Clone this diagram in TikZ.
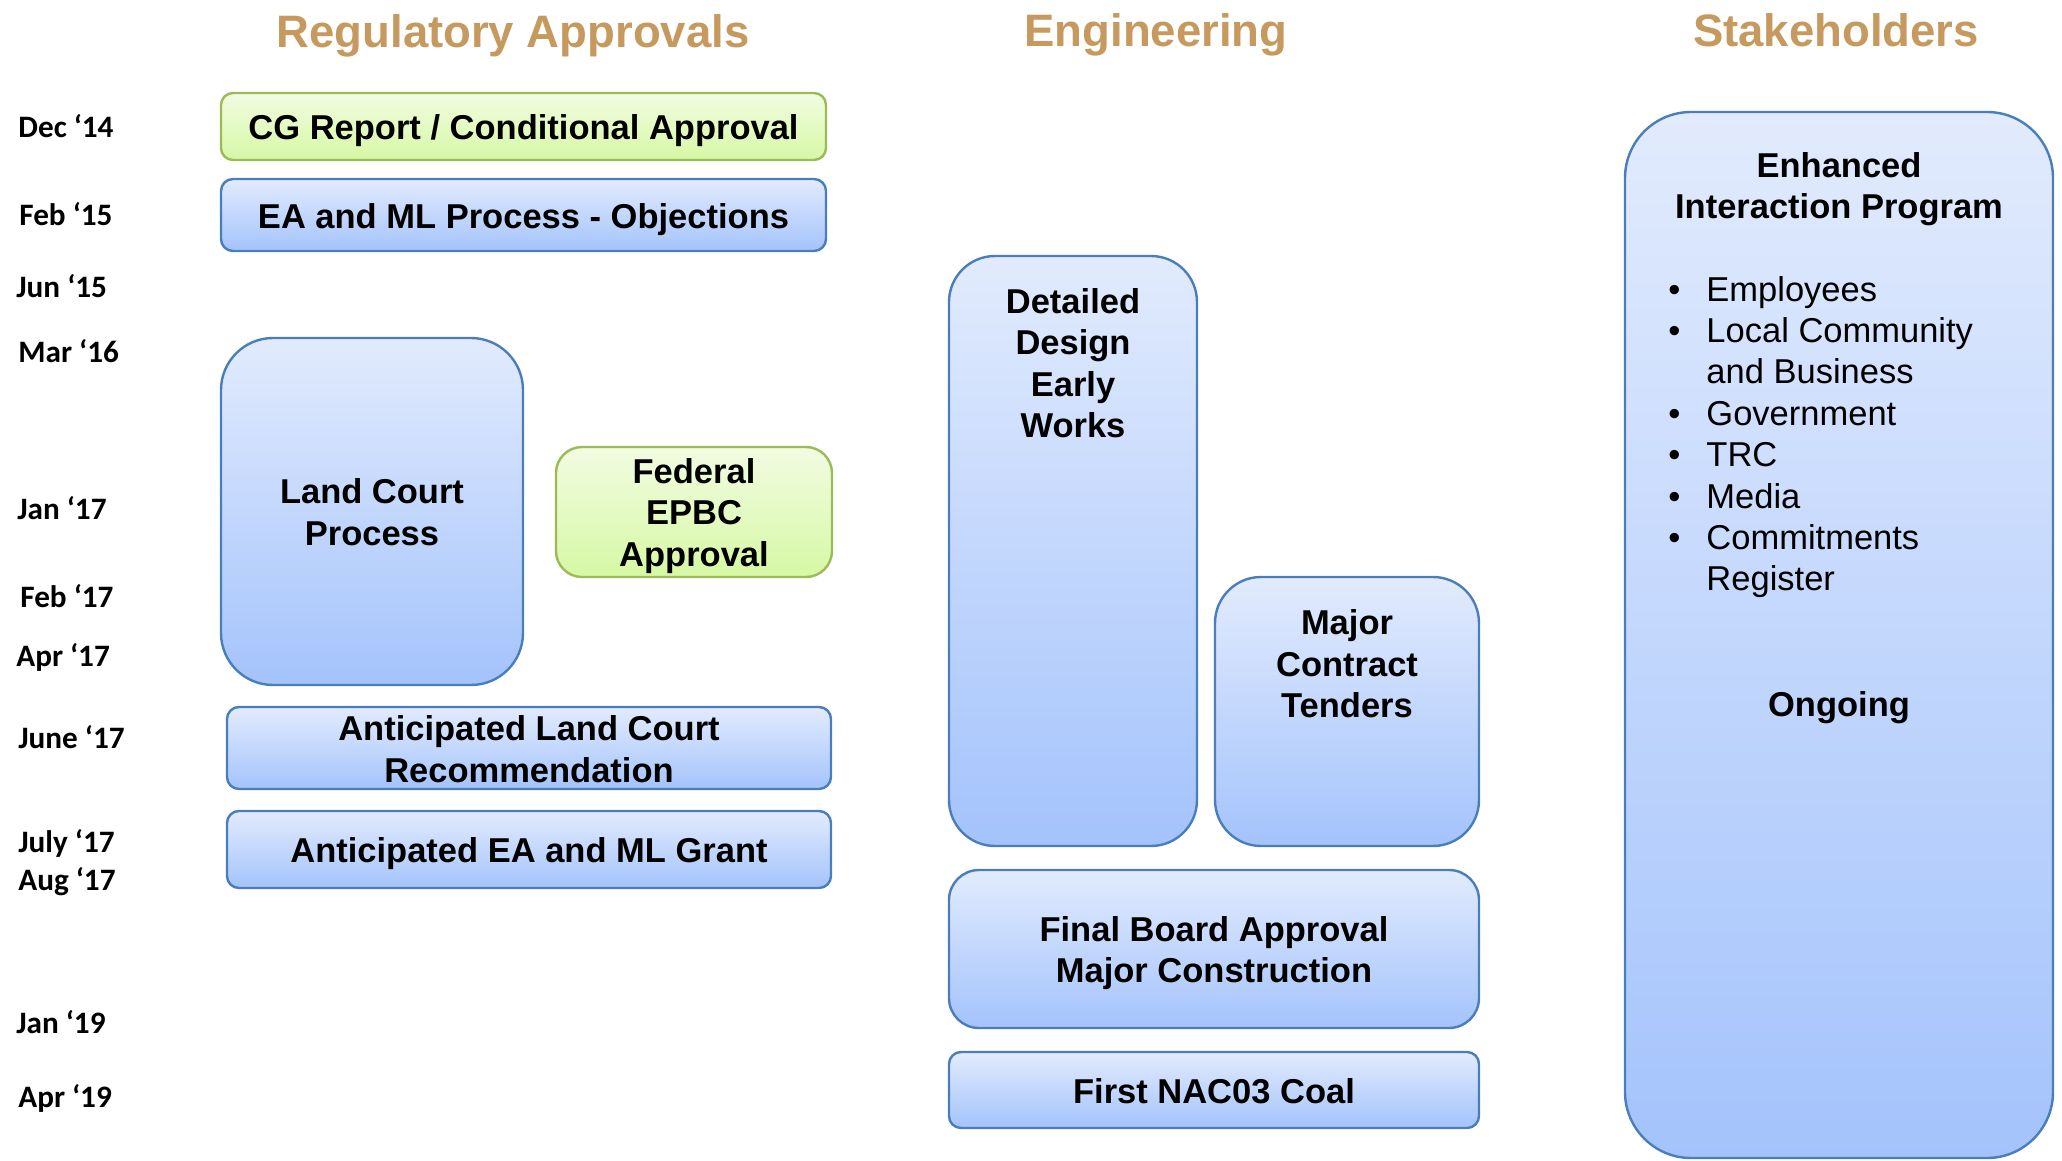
\documentclass[tikz,border=0pt]{standalone}
\usepackage{fontspec}
\setmainfont{Liberation Sans}
\newfontfamily\datefont{Carlito}
\usetikzlibrary{fit}
\definecolor{hdr}{RGB}{198,153,94}
\definecolor{bltop}{RGB}{226,235,253}
\definecolor{blbot}{RGB}{164,195,252}
\definecolor{blline}{RGB}{74,126,187}
\definecolor{grtop}{RGB}{242,252,226}
\definecolor{grbot}{RGB}{214,248,164}
\definecolor{grline}{RGB}{155,187,89}
\tikzset{
 bbox/.style={draw=blline, line width=1.2pt, top color=bltop, bottom color=blbot, inner sep=0pt},
 gbox/.style={draw=grline, line width=1.2pt, top color=grtop, bottom color=grbot, inner sep=0pt},
 btxt/.style={font=\fontsize{17.25pt}{20.7pt}\selectfont\bfseries, align=center, inner sep=0pt},
 ltxt/.style={font=\fontsize{17.25pt}{20.7pt}\selectfont, inner sep=0pt},
 hdrtxt/.style={font=\fontsize{22.75pt}{27pt}\selectfont\bfseries, text=hdr, inner sep=0pt, anchor=base},
 datetxt/.style={font=\fontsize{15.6pt}{18pt}\selectfont\datefont\bfseries, inner sep=0pt, anchor=base west},
}
\begin{document}
\begin{tikzpicture}[x=0.5pt,y=-0.5pt]
\useasboundingbox (0,0) rectangle (2062,1161);
% headers
\node[hdrtxt] (h1) at (513,48) {Regulatory Approvals};
\node[hdrtxt] (h2) at (1156,47) {Engineering};
\node[hdrtxt] (h3) at (1836,47) {Stakeholders};
% dates
\node[datetxt] (d1) at (18,138) {Dec ‘14};
\node[datetxt] (d2) at (19,226) {Feb ‘15};
\node[datetxt] (d3) at (16,297) {Jun ‘15};
\node[datetxt] (d4) at (18,362) {Mar ‘16};
\node[datetxt] (d5) at (17,519) {Jan ‘17};
\node[datetxt] (d6) at (20,607) {Feb ‘17};
\node[datetxt] (d7) at (16,666) {Apr ‘17};
\node[datetxt] (d8) at (18,748) {June ‘17};
\node[datetxt] (d9) at (18,852) {July ‘17};
\node[datetxt] (d10) at (18,890) {Aug ‘17};
\node[datetxt] (d11) at (16,1033) {Jan ‘19};
\node[datetxt] (d12) at (18,1107) {Apr ‘19};
% regulatory boxes
\node[gbox, rounded corners=6pt, fit={(221,93) (826,160)}] (cg) {};
\node[btxt, anchor=base] (cgt) at (523.5,140) {CG Report / Conditional Approval};
\node[bbox, rounded corners=6pt, fit={(221,179) (826,251)}] (ea) {};
\node[btxt, anchor=base] (eat) at (523.5,228) {EA and ML Process - Objections};
\node[bbox, rounded corners=26pt, fit={(221,338) (523,685)}] (lc) {};
\node[btxt] (lct) at (372,512) {Land Court\\Process};
\node[gbox, rounded corners=13pt, fit={(556,447) (832,577)}] (fe) {};
\node[btxt] (fet) at (694,516) {Federal\\EPBC\\Approval};
\node[bbox, rounded corners=6pt, fit={(227,707) (831,789)}] (alc) {};
\node[btxt] (alct) at (529,749) {Anticipated Land Court\\Recommendation};
\node[bbox, rounded corners=6pt, fit={(227,811) (831,888)}] (aea) {};
\node[btxt, anchor=base] (aeat) at (529,862) {Anticipated EA and ML Grant};
% engineering boxes
\node[bbox, rounded corners=23pt, fit={(949,256) (1197,846)}] (dd) {};
\node[btxt] (ddt) at (1073,363) {Detailed\\Design\\Early\\Works};
\node[bbox, rounded corners=23pt, fit={(1215,577) (1479,846)}] (mc) {};
\node[btxt] (mct) at (1347,664) {Major\\Contract\\Tenders};
\node[bbox, rounded corners=15pt, fit={(949,870) (1479,1028)}] (fb) {};
\node[btxt] (fbt) at (1214,953) {Final Board Approval\\Major Construction};
\node[bbox, rounded corners=6pt, fit={(949,1052) (1479,1128)}] (fn) {};
\node[btxt, anchor=base] (fnt) at (1214,1103) {First NAC03 Coal};
% stakeholders
\node[bbox, rounded corners=33pt, fit={(1625,112) (2053,1158)}] (st) {};
\node[btxt] (stt) at (1839,189) {Enhanced\\Interaction Program};
\node[ltxt, anchor=base west] (stl) at (1668,301) {%
\begin{tabular}[t]{@{}l@{\hspace{13pt}}l@{}}
\textbullet & Employees\\
\textbullet & Local Community\\
 & and Business\\
\textbullet & Government\\
\textbullet & TRC\\
\textbullet & Media\\
\textbullet & Commitments\\
 & Register
\end{tabular}};
\node[btxt, anchor=base] (ong) at (1839,716) {Ongoing};
\end{tikzpicture}
\end{document}
